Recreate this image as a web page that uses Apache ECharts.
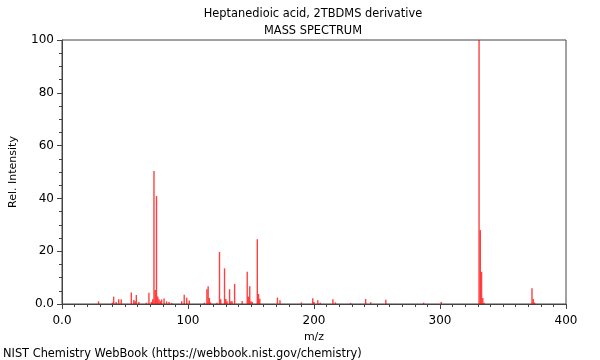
<!DOCTYPE html>
<html>
<head>
<meta charset="utf-8">
<script src="https://cdn.jsdelivr.net/npm/echarts@6/dist/echarts.min.js"></script>
<style>html,body{margin:0;padding:0;background:#fff;}#c{width:600px;height:360px;}</style>
</head>
<body>
<div id="c"></div>
<script>
const titleLines = ["Heptanedioic acid, 2TBDMS derivative", "MASS SPECTRUM"];
const xTickLabels = ["0.0", "100", "200", "300", "400"];
const yTickLabels = ["0.0", "20", "40", "60", "80", "100"];
const mz = [29,40,41,43,45,47,55,57,58,59,61,67,69,71,72,73,74,75,76,77,78,79,81,83,85,87,95,97,99,101,113,115,116,117,118,123,125,126,129,130,131,133,134,135,137,143,147,148,149,150,151,155,156,157,171,173,190,199,200,203,205,215,217,229,241,245,257,287,301,331,332,333,334,335,373,374,375];
const intensity = [1.0,0.5,2.8,0.8,1.8,1.8,4.4,1.5,1.0,3.4,0.8,0.5,4.3,0.8,1.8,50.4,5.3,40.9,2.8,1.8,1.0,1.7,2.1,1.0,0.8,0.4,1.0,3.5,2.4,1.3,0.5,5.6,6.7,2.3,0.6,0.5,19.7,1.8,13.5,1.9,1.0,5.6,1.0,1.0,7.6,1.1,12.2,2.8,6.7,1.0,0.8,24.5,3.8,2.0,2.4,1.4,0.6,2.2,0.8,1.4,0.5,1.8,0.6,0.4,1.9,0.7,1.6,0.5,0.8,100,28,12.2,2.3,0.5,6.0,1.9,0.6];

const data = mz.map((m, i) => [m, intensity[i]]);
const font = '"DejaVu Sans", sans-serif';
const chart = echarts.init(document.getElementById('c'), null, {renderer: 'canvas'});
chart.setOption({
  animation: false,
  backgroundColor: '#fff',
  title: [
    {text: titleLines[0], left: 313, top: 9, padding: 0, textAlign: 'center', textStyle: {fontFamily: font, fontSize: 11.4, fontWeight: 'normal', color: '#000'}},
    {text: titleLines[1], left: 313, top: 26, padding: 0, textAlign: 'center', textStyle: {fontFamily: font, fontSize: 11.4, fontWeight: 'normal', color: '#000'}},
    {text: 'NIST Chemistry WebBook (https://webbook.nist.gov/chemistry)', left: 3, top: 349, padding: 0, textStyle: {fontFamily: font, fontSize: 11.4, fontWeight: 'normal', color: '#000'}}
  ],
  grid: {left: 61, right: 34, top: 40, bottom: 56, show: true, borderColor: '#444', borderWidth: 1, backgroundColor: 'transparent'},
  xAxis: {
    type: 'value', min: 0, max: 400, interval: 100,
    name: 'm/z', nameLocation: 'middle', nameGap: 27,
    nameTextStyle: {fontFamily: font, fontSize: 11, color: '#000'},
    axisLine: {show: true, lineStyle: {color: '#444'}},
    axisTick: {show: true, length: 5, lineStyle: {color: '#444'}},
    minorTick: {show: true, splitNumber: 10, length: 3, lineStyle: {color: '#444'}},
    splitLine: {show: false},
    axisLabel: {fontFamily: font, fontSize: 12, color: '#000', margin: 11, formatter: (v) => xTickLabels[Math.round(v / 100)]}
  },
  yAxis: {
    type: 'value', min: 0, max: 100, interval: 20,
    name: 'Rel. Intensity', nameLocation: 'middle', nameGap: 43,
    nameTextStyle: {fontFamily: font, fontSize: 11, color: '#000'},
    axisLine: {show: true, lineStyle: {color: '#444'}},
    axisTick: {show: true, length: 5, lineStyle: {color: '#444'}},
    minorTick: {show: true, splitNumber: 4, length: 3, lineStyle: {color: '#444'}},
    splitLine: {show: false},
    axisLabel: {fontFamily: font, fontSize: 12, color: '#000', margin: 8, formatter: (v) => yTickLabels[Math.round(v / 20)]}
  },
  series: [{
    type: 'bar',
    data: data,
    barWidth: 1.4,
    itemStyle: {color: 'rgba(255,0,0,0.75)'}
  }]
});
</script>
</body>
</html>
